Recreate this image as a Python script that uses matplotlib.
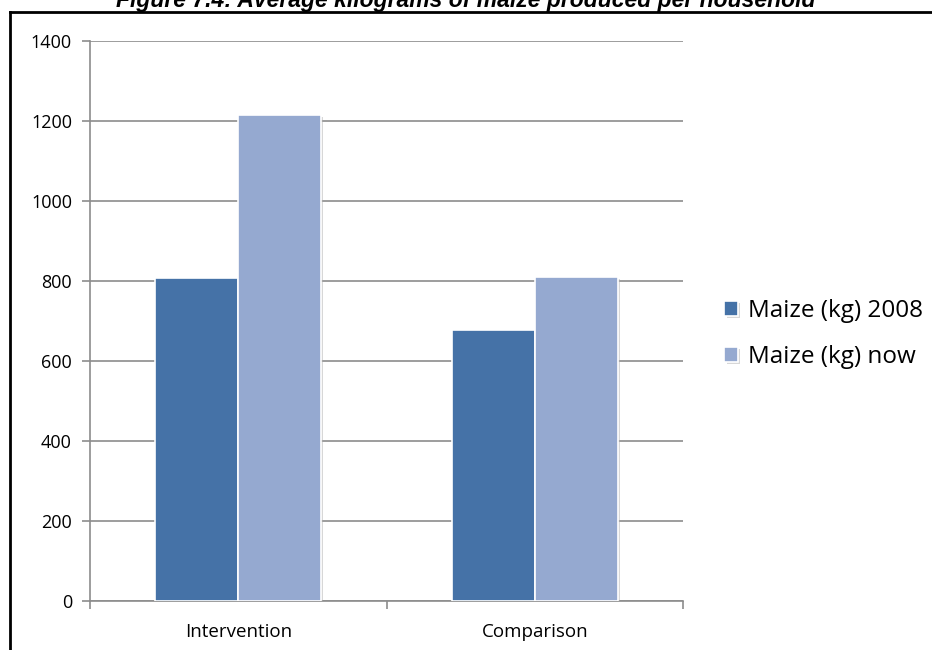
import matplotlib.pyplot as plt
import matplotlib.patheffects as pe
from matplotlib.lines import Line2D
import numpy as np

groups = ['Intervention', 'Comparison']
series_names = ['Maize (kg) 2008', 'Maize (kg) now']
maize_2008 = [808, 677]
maize_now = [1216, 809]
colors = ['#4572A7', '#95A9D0']

plt.rcParams['font.family'] = ['Open Sans', 'DejaVu Sans']

fig = plt.figure(figsize=(9.32, 6.5), dpi=100)
ax = fig.add_axes([90 / 932, 49 / 650, 593 / 932, 560 / 650])

x = np.arange(len(groups))
width = 0.28
shadow = [pe.SimplePatchShadow(offset=(1.5, -1.5), shadow_rgbFace='#b0b0b0', alpha=0.5), pe.Normal()]
for i, (vals, name) in enumerate(zip([maize_2008, maize_now], series_names)):
    bars = ax.bar(x + (i - 0.5) * width, vals, width, color=colors[i], edgecolor='white',
                  linewidth=1.2, label=name, zorder=3)
    for b in bars:
        b.set_path_effects(shadow)

ax.set_xlim(-0.5, 1.5)
ax.set_ylim(0, 1400)
ax.set_yticks(range(0, 1401, 200))
ax.yaxis.grid(True, color='#8c8c8c', linewidth=1.2, zorder=0)
ax.set_axisbelow(True)

# category labels sit between boundary ticks
ax.set_xticks([-0.5, 0.5, 1.5])
ax.set_xticklabels([])
ax.set_xticks(x, minor=True)
ax.set_xticklabels(groups, minor=True, fontsize=13.5)
ax.tick_params(axis='x', which='minor', length=0, pad=16)
ax.tick_params(axis='x', which='major', length=6, color='#8c8c8c', width=1.2)
ax.tick_params(axis='y', length=6, color='#8c8c8c', width=1.2, labelsize=13, pad=7)

for side in ['top', 'right']:
    ax.spines[side].set_visible(False)
for side in ['left', 'bottom']:
    ax.spines[side].set_color('#8c8c8c')
    ax.spines[side].set_linewidth(1.2)

ax.legend(loc='center left', bbox_to_anchor=(1.033, 0.477), frameon=False, fontsize=17.5,
          handlelength=0.55, handleheight=0.55, handletextpad=0.4, labelspacing=0.9)

fig.text(0.5, (650 - 7) / 650, 'Figure 7.4: Average kilograms of maize produced per household',
         ha='center', va='baseline', fontsize=16.5, fontweight='bold', fontstyle='italic',
         family=['Liberation Sans', 'DejaVu Sans'])

# frame around the chart area
fig.add_artist(Line2D([10 / 932, 10 / 932], [0, (650 - 12) / 650], color='black', linewidth=2,
                      transform=fig.transFigure))
fig.add_artist(Line2D([10 / 932, 1], [(650 - 12) / 650, (650 - 12) / 650], color='black', linewidth=2,
                      transform=fig.transFigure))

fig.savefig('out.png', dpi=100)
